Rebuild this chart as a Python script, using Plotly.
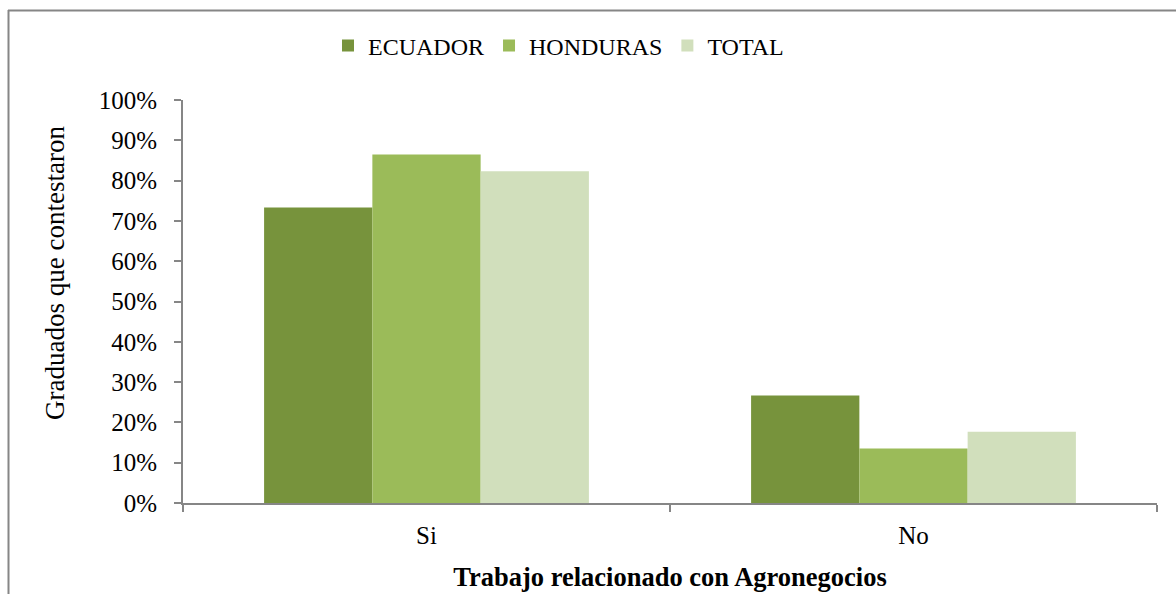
import plotly.graph_objects as go

categories = ["Si", "No"]
series_names = ["ECUADOR", "HONDURAS", "TOTAL"]
ecuador = [0.733, 0.267]
honduras = [0.865, 0.135]
total = [0.823, 0.177]
colors = ["#77933C", "#9BBB59", "#D1DFBC"]
y_ticks = [0, 0.1, 0.2, 0.3, 0.4, 0.5, 0.6, 0.7, 0.8, 0.9, 1.0]

W, H = 1176, 594
L, R, T, B = 183, 19, 100, 91
pw, ph = W - L - R, H - T - B

def px(x):
    return (x - L) / pw

def py(y):
    return (H - B - y) / ph

FONT = "Liberation Serif, Times New Roman, serif"

fig = go.Figure()
for name, vals, c in zip(series_names, [ecuador, honduras, total], colors):
    fig.add_trace(go.Bar(x=categories, y=vals, name=name, marker=dict(color=c, line=dict(width=0))))

fig.update_layout(
    width=W, height=H,
    margin=dict(l=L, r=R, t=T, b=B, autoexpand=False),
    paper_bgcolor="white", plot_bgcolor="white",
    barmode="group", bargap=0.333, bargroupgap=0,
    font=dict(family=FONT, size=24, color="black"),
    legend=dict(orientation="h", x=px(328), y=py(46), xanchor="left", yanchor="middle",
                font=dict(size=24), itemwidth=30, traceorder="normal"),
    xaxis=dict(showline=True, linecolor="#868686", linewidth=2, automargin=False,
               ticks="outside", tickson="boundaries", ticklen=7, tickcolor="#868686", tickwidth=2,
               ticklabelstandoff=9,
               title=dict(text="<b>Trabajo relacionado con Agronegocios</b>", font=dict(size=26.5), standoff=19),
               tickfont=dict(size=25)),
    yaxis=dict(range=[0, 1], tickvals=y_ticks, tickformat=".0%", showgrid=False, zeroline=False,
               showline=True, linecolor="#868686", linewidth=2, automargin=False,
               ticks="outside", ticklen=7, tickcolor="#868686", tickwidth=2,
               ticklabelstandoff=12,
               tickfont=dict(size=25)),
    annotations=[
        dict(text="Graduados que contestaron", xref="paper", yref="paper", x=px(55), y=py(273),
             xanchor="center", yanchor="middle", textangle=-90, showarrow=False,
             font=dict(size=27)),
    ],
    shapes=[
        dict(type="line", xref="paper", yref="paper", x0=px(8), x1=px(1176), y0=py(10.5), y1=py(10.5),
             line=dict(color="#868686", width=2)),
        dict(type="line", xref="paper", yref="paper", x0=px(8.5), x1=px(8.5), y0=py(10), y1=py(594),
             line=dict(color="#868686", width=2)),
    ],
)

fig.write_html("out.html", config={"displayModeBar": False},
               post_script="document.body.style.margin='0';document.body.style.overflow='hidden';")
